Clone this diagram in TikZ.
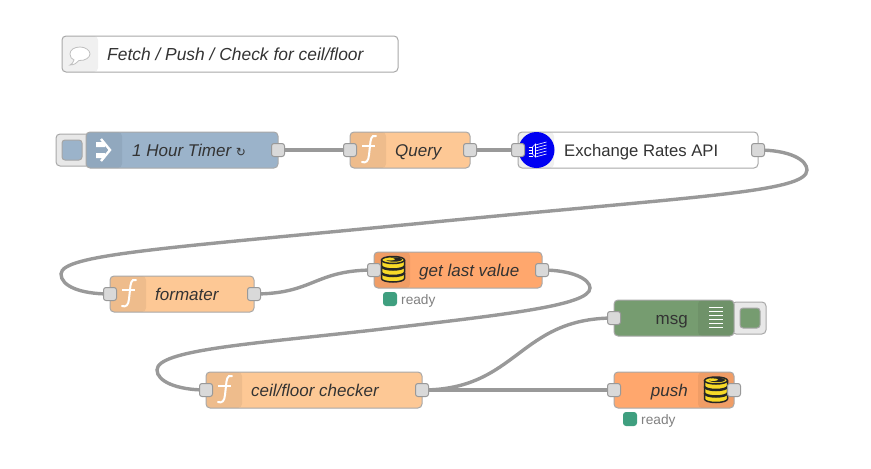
\documentclass[tikz,border=0pt]{standalone}
\usepackage{fontspec}
\setmainfont{Liberation Sans}
\newfontfamily\symbolfont{DejaVu Sans}
\usetikzlibrary{backgrounds}
\definecolor{timerblue}{HTML}{9BB3CA}
\definecolor{funcorange}{HTML}{FDC895}
\definecolor{dborange}{HTML}{FFA76D}
\definecolor{debuggreen}{HTML}{769C70}
\definecolor{statusgreen}{HTML}{3F9F7F}
\definecolor{wiregray}{HTML}{999999}
\definecolor{edgegray}{HTML}{A8A8A8}
\definecolor{dbyellow}{HTML}{F7D928}
\begin{document}
\begin{tikzpicture}[
    x=1pt,y=-1pt,
    flownode/.style={draw=edgegray,line width=1,rounded corners=4,minimum height=36,inner sep=0,outer sep=0},
    leftband/.style={path picture={
        \fill[black,opacity=.06] (path picture bounding box.north west) rectangle ([xshift=#1]path picture bounding box.south west);}},
    rightband/.style={path picture={
        \fill[black,opacity=.06] (path picture bounding box.north east) rectangle ([xshift=-#1]path picture bounding box.south east);}},
    port/.style={draw=wiregray,fill=black!15,line width=1,rounded corners=2.5,minimum size=13,inner sep=0,outer sep=0},
    button/.style={draw=edgegray,fill=black!9,line width=1,rounded corners=4,inner sep=0,outer sep=0},
    swatch/.style={draw=black!35,line width=1,rounded corners=3,minimum size=20,inner sep=0},
    wire/.style={draw=wiregray,line width=3.4},
    flowlabel/.style={anchor=west,inner sep=0,text height=12,text depth=0,font=\fontsize{17}{20}\selectfont,text=black!80},
    statusdot/.style={fill=statusgreen,rounded corners=3,minimum size=14,inner sep=0},
    statuslabel/.style={anchor=west,inner sep=0,text height=10,text depth=0,font=\fontsize{13.7}{16}\selectfont,text=black!50},
    funcicon/.pic={
      \draw[white,line width=2,line cap=round] (8,-13) .. controls (3,-14.5) and (2.5,-9) .. (2,-3) -- (1,6) .. controls (0.5,12) and (-2,14.5) .. (-6,13);
      \draw[white,line width=1.6] (-6,-3) -- (7,-3);},
    dbicon/.pic={
      \foreach \yy in {4,-2.5,-9} {
        \draw[black!85,fill=dbyellow,line width=1.5] (-11.5,\yy) -- (-11.5,\yy+5.5) arc[start angle=180,end angle=0,x radius=11.5,y radius=3.5] -- (11.5,\yy);
        \draw[black!85,fill=dbyellow,line width=1.5] (0,\yy) ellipse[x radius=11.5,y radius=3.5];}
      \fill[black!85] (1,-9.5) ellipse[x radius=8,y radius=2.2];
      \fill[dbyellow] (-3,-9.8) ellipse[x radius=5,y radius=1.3];}
  ]
  \useasboundingbox (0,0) rectangle (871,469);

  % comment
  \node[flownode,fill=white,leftband=36,minimum width=336] (note) at (230,54) {};
  \draw[black!25,line width=0.8,fill=white] (74,60) .. controls (73,63) and (72,64) .. (70,65) .. controls (74,65) and (77,63) .. (79,60.5) .. controls (85,61) and (90,57.5) .. (90,54) .. controls (90,50) and (85,47) .. (80,47) .. controls (74,47) and (70,50) .. (70,54) .. controls (70,57) and (71.5,59) .. (74,60) -- cycle;
  \node[flowlabel,font=\fontsize{17.4}{20}\selectfont] (notelabel) at (107,54) {\itshape Fetch / Push / Check for ceil/floor};

  % first row
  \node[button,minimum width=34,minimum height=32] (timerbutton) at (73,150) {};
  \node[swatch,fill=timerblue] (timerswatch) at (72,150) {};
  \node[flownode,fill=timerblue,leftband=36,minimum width=192] (timer) at (182,150) {};
  \fill[white] (96,142) rectangle (105,147) (96,153) rectangle (105,158);
  \draw[white,line width=2.4] (101,139) -- (110,150) -- (101,161);
  \node[flowlabel] (timerlabel) at (132,150) {\itshape 1 Hour Timer {\symbolfont\upshape\fontsize{12}{14}\selectfont ↻}};
  \node[flownode,fill=funcorange,leftband=36,minimum width=120] (query) at (410,150) {};
  \pic at (368,149) {funcicon};
  \node[flowlabel] (querylabel) at (395,150) {\itshape Query};
  \node[flownode,fill=white,leftband=36,minimum width=240] (rates) at (638,150) {};
  \node[circle,fill=blue!95!black,minimum size=36,inner sep=0] (ratesicon) at (536.5,150) {};
  \begin{scope}[white,line width=0.6]
    \foreach \yy in {-6,-3,0,3,6} \draw (ratesicon.center) ++(-1,\yy+1) -- ++(11,-3);
    \foreach \yy in {-3,0,3,6} \draw (ratesicon.center) ++(-8,\yy) -- ++(4,0);
    \draw (ratesicon.center) ++(-1,-6) -- ++(0,13) -- ++(-3,-3) -- ++(0,-7) -- cycle;
  \end{scope}
  \node[flowlabel,font=\fontsize{16.7}{20}\selectfont] (rateslabel) at (564,150) {Exchange Rates API};

  % second row
  \node[flownode,fill=funcorange,leftband=36,minimum width=144] (formater) at (182,294) {};
  \pic at (128,293) {funcicon};
  \node[flowlabel] (formaterlabel) at (155,294) {\itshape formater};
  \node[flownode,fill=dborange,leftband=36,minimum width=168] (lastvalue) at (458,270) {};
  \pic at (393,269) {dbicon};
  \node[flowlabel] (lastvaluelabel) at (419,270) {\itshape get last value};
  \node[statusdot] (laststatus) at (390,299) {};
  \node[statuslabel] (laststatuslabel) at (401,299) {ready};

  % third row
  \node[flownode,fill=funcorange,leftband=36,minimum width=216] (checker) at (314,390) {};
  \pic at (224,389) {funcicon};
  \node[flowlabel] (checkerlabel) at (251,390) {\itshape ceil/floor checker};
  \node[button,minimum width=34,minimum height=32] (msgbutton) at (749,318) {};
  \node[swatch,fill=debuggreen] (msgswatch) at (750,318) {};
  \node[flownode,fill=debuggreen,rightband=36,minimum width=120] (msg) at (674,318) {};
  \foreach \yy in {-10,-6,-2,2,6,10} \draw[white,line width=1.2] (709,317.5+\yy) -- (723,317.5+\yy);
  \node[flowlabel,anchor=east] (msglabel) at (688,318) {msg};
  \node[flownode,fill=dborange,rightband=36,minimum width=120] (push) at (674,390) {};
  \pic at (716,389.5) {dbicon};
  \node[flowlabel,anchor=east] (pushlabel) at (688,390) {\itshape push};
  \node[statusdot] (pushstatus) at (630,419) {};
  \node[statuslabel] (pushstatuslabel) at (641,419) {ready};

  % ports
  \foreach \portname/\xx/\yy in {timerout/278/150,queryin/350/150,queryout/470/150,ratesin/518/150,ratesout/758/150,
      formaterin/110/294,formaterout/254/294,lastin/374/270,lastout/542/270,
      checkerin/206/390,checkerout/422/390,msgin/614/318,pushin/614/390,pushout/734/390}
    \node[port] (\portname) at (\xx,\yy) {};

  % wires
  \begin{scope}[on background layer]
    \draw[wire] (timerout.center) -- (queryin.center);
    \draw[wire] (queryout.center) -- (ratesin.center);
    \draw[wire] (ratesout.center) .. controls (790,150) and (807,160) .. (807,170) .. controls (807,192) and (700,196) .. (434,222)
      .. controls (170,248) and (61,254) .. (61,274) .. controls (61,286) and (80,294) .. (formaterin.center);
    \draw[wire] (formaterout.center) .. controls (314,294) and (314,270) .. (lastin.center);
    \draw[wire] (lastout.center) .. controls (572,270) and (590,279) .. (590,288) .. controls (590,306) and (500,315) .. (374,330)
      .. controls (250,344) and (157,350) .. (157,370) .. controls (157,381) and (176,390) .. (checkerin.center);
    \draw[wire] (checkerout.center) .. controls (518,390) and (518,318) .. (msgin.center);
    \draw[wire] (checkerout.center) -- (pushin.center);
  \end{scope}
\end{tikzpicture}
\end{document}
